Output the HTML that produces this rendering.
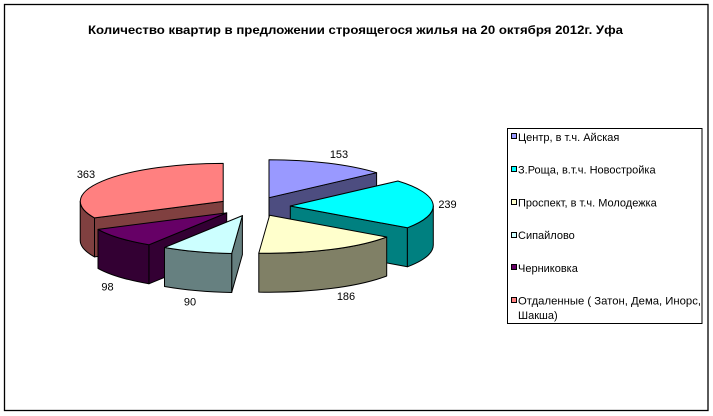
<!DOCTYPE html>
<html>
<head>
<meta charset="utf-8">
<style>
  html, body { margin: 0; padding: 0; background: #fff; }
  svg { display: block; }
  text { font-family: "Liberation Sans", "DejaVu Sans", sans-serif; fill: #000; }
</style>
</head>
<body>
<svg width="713" height="416" viewBox="0 0 713 416" xmlns="http://www.w3.org/2000/svg">
  <rect x="0" y="0" width="713" height="416" fill="#fff"/>
  <rect x="4.5" y="4.5" width="703.5" height="406" fill="none" stroke="#000" stroke-width="1.3"/>

  <text x="355.5" y="34" font-size="12" font-weight="bold" text-anchor="middle" textLength="535" lengthAdjust="spacingAndGlyphs">Количество квартир в предложении строящегося жилья на 20 октября 2012г. Уфа</text>

  <g stroke="#000" stroke-width="1" stroke-linejoin="round">
    <!-- Центр -->
    <path d="M269,197.7 L376.6,172.7 L376.6,211.7 L269,236.7 Z" fill="#4D4D80"/>
    <path d="M269,197.7 L269,159.7 A143,38 0 0 1 376.6,172.7 Z" fill="#9999FF"/>

    <!-- Отдаленные -->
    <path d="M223.2,201.4 L94.5,217.9 L94.5,256.9 L223.2,240.4 Z" fill="#804040"/>
    <path d="M94.5,217.9 A143,38 0 0 1 80.2,201.4 L80.2,240.4 A143,38 0 0 0 94.5,256.9 Z" fill="#804040"/>
    <path d="M223.2,201.4 L94.5,217.9 A143,38 0 0 1 223.2,163.4 Z" fill="#FF8080"/>

    <!-- З.Роща -->
    <path d="M290.3,206 L407.4,227.8 L407.4,266.8 L290.3,245 Z" fill="#008080"/>
    <path d="M433.3,206 A143,38 0 0 1 407.4,227.8 L407.4,266.8 A143,38 0 0 0 433.3,245 Z" fill="#008080"/>
    <path d="M290.3,206 L397.9,181 A143,38 0 0 1 407.4,227.8 Z" fill="#00FFFF"/>

    <!-- Черниковка -->
    <path d="M226.7,212.9 L148.9,244.8 L148.9,283.8 L226.7,251.9 Z" fill="#330033"/>
    <path d="M148.9,244.8 A143,38 0 0 1 98,229.4 L98,268.4 A143,38 0 0 0 148.9,283.8 Z" fill="#330033"/>
    <path d="M226.7,212.9 L148.9,244.8 A143,38 0 0 1 98,229.4 Z" fill="#660066"/>

    <!-- Проспект -->
    <path d="M386.7,237 A143,38 0 0 1 258.8,253.1 L258.8,292.1 A143,38 0 0 0 386.7,276 Z" fill="#808066"/>
    <path d="M269.6,215.2 L386.7,237 A143,38 0 0 1 258.8,253.1 Z" fill="#FFFFCC"/>

    <!-- Сипайлово -->
    <path d="M242.4,215.6 L231.7,253.5 L231.7,292.5 L242.4,254.6 Z" fill="#668080"/>
    <path d="M231.7,253.5 A143,38 0 0 1 164.5,247.5 L164.5,286.5 A143,38 0 0 0 231.7,292.5 Z" fill="#668080"/>
    <path d="M242.4,215.6 L231.7,253.5 A143,38 0 0 1 164.5,247.5 Z" fill="#CCFFFF"/>
  </g>

  <!-- data labels -->
  <g font-size="11" text-anchor="middle">
    <text x="339" y="158">153</text>
    <text x="447.5" y="208">239</text>
    <text x="346" y="300">186</text>
    <text x="190" y="305.5">90</text>
    <text x="107.5" y="290.5">98</text>
    <text x="86" y="178">363</text>
  </g>

  <!-- legend -->
  <rect x="507.5" y="128.5" width="194.5" height="195" fill="#fff" stroke="#000" stroke-width="1"/>
  <g stroke="#000" stroke-width="1">
    <rect x="511.5" y="133.5" width="5" height="5" fill="#9999FF"/>
    <rect x="511.5" y="166.5" width="5" height="5" fill="#00FFFF"/>
    <rect x="511.5" y="199.5" width="5" height="5" fill="#FFFFCC"/>
    <rect x="511.5" y="232.5" width="5" height="5" fill="#CCFFFF"/>
    <rect x="511.5" y="264.5" width="5" height="5" fill="#660066"/>
    <rect x="511.5" y="297.5" width="5" height="5" fill="#FF8080"/>
  </g>
  <g font-size="11">
    <text x="518" y="141">Центр, в т.ч. Айская</text>
    <text x="518" y="173.7">З.Роща, в.т.ч. Новостройка</text>
    <text x="518" y="206.4">Проспект, в т.ч. Молодежка</text>
    <text x="518" y="239.1">Сипайлово</text>
    <text x="518" y="271.8">Черниковка</text>
    <text x="518" y="304.5" textLength="183" lengthAdjust="spacingAndGlyphs">Отдаленные ( Затон, Дема, Инорс,</text>
    <text x="518" y="319">Шакша)</text>
  </g>
</svg>
</body>
</html>
